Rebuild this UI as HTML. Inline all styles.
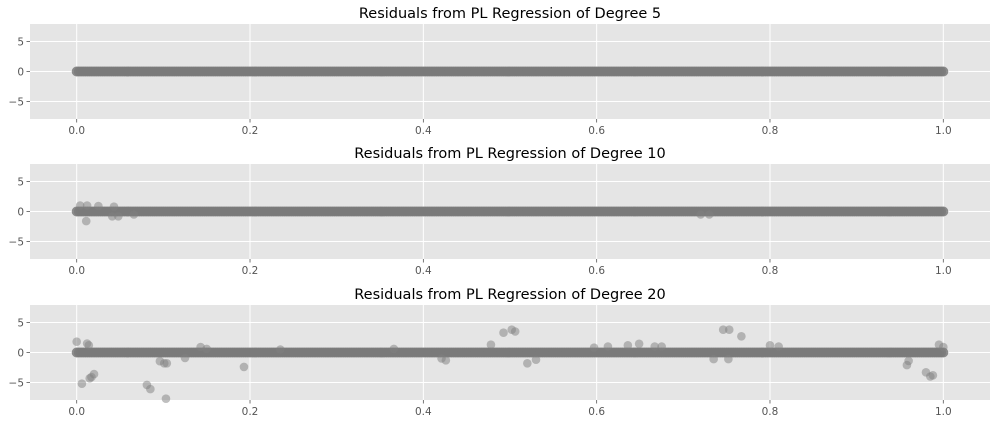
<!DOCTYPE html>
<html><head><meta charset="utf-8"><style>
html,body{margin:0;padding:0;background:#fff;}
svg{display:block;font-family:"DejaVu Sans","Liberation Sans",sans-serif;}
</style></head><body>
<svg id="fig" width="1000" height="424" xmlns="http://www.w3.org/2000/svg"></svg>
<script>
const titles = ["Residuals from PL Regression of Degree 5","Residuals from PL Regression of Degree 10","Residuals from PL Regression of Degree 20"];
const xTicks = [0.0,0.2,0.4,0.6,0.8,1.0];
const xTickLabels = ["0.0","0.2","0.4","0.6","0.8","1.0"];
const yTicks = [5,0,-5];
const yTickLabels = ["5","0","\u22125"];
// dense core band of residuals (approximately zero across x in [0,1])
const bandX = [];
for (let i = 0; i <= 400; i++) bandX.push(i/400);
const bandY = bandX.map(() => 0);
// outliers per panel
const out1X = [];
const out1Y = [];
const out2X = [0.004,0.012,0.011,0.025,0.043,0.041,0.048,0.066,0.72,0.73];
const out2Y = [1.0,1.0,-1.6,0.9,0.8,-0.8,-0.8,-0.5,-0.5,-0.5];
const out3X = [0.0,0.012,0.014,0.006,0.015,0.017,0.02,0.081,0.085,0.103,0.096,0.101,0.104,0.125,0.143,0.15,0.193,0.235,
  0.366,0.421,0.426,0.478,0.4925,0.502,0.506,0.52,0.53,0.597,0.613,0.636,0.649,0.667,0.675,
  0.735,0.746,0.752,0.753,0.767,0.8,0.81,0.958,0.96,0.98,0.985,0.988,0.995,1.0];
const out3Y = [1.8,1.5,1.2,-5.2,-4.3,-4.1,-3.6,-5.4,-6.1,-7.7,-1.45,-1.8,-1.8,-0.9,0.9,0.6,-2.4,0.5,
  0.6,-1.0,-1.3,1.3,3.3,3.8,3.5,-1.8,-1.2,0.8,1.0,1.2,1.45,1.0,1.0,
  -1.1,3.8,-1.1,3.8,2.7,1.2,1.0,-2.1,-1.4,-3.3,-4.0,-3.8,1.3,0.9];

const svg = document.getElementById('fig');
const NS = "http://www.w3.org/2000/svg";
function mk(tag, attrs){const e=document.createElementNS(NS,tag);for(const k in attrs)e.setAttribute(k,attrs[k]);return e;}
const L=30,R=990,H=95;
const tops=[24,164,305];
const xs = v => 76.7 + v*866.6;
const panels=[[out1X,out1Y],[out2X,out2Y],[out3X,out3Y]];
tops.forEach((T,p)=>{
  const zero = T + H/2;
  const ys = v => zero - v*6;
  const g = mk('g',{});
  
  
  svg.appendChild(g);
  const bg = mk('rect',{x:L,y:T,width:R-L,height:H,fill:'#e5e5e5'});
  
  
  g.appendChild(bg);
  xTicks.forEach((t,i)=>{
    const x=xs(t);
    const gl=mk('line',{x1:x,x2:x,y1:T,y2:T+H,stroke:'#fff','stroke-width':1});
    
    
    g.appendChild(gl);
    g.appendChild(mk('line',{x1:x,x2:x,y1:T+H,y2:T+H+3.5,stroke:'#555','stroke-width':0.8}));
    const tx=mk('text',{x:x,y:T+H+15,'font-size':10.5,fill:'#555','text-anchor':'middle'});
    
    
    tx.textContent=xTickLabels[i];g.appendChild(tx);
  });
  yTicks.forEach((t,i)=>{
    const y=ys(t);
    const gl=mk('line',{x1:L,x2:R,y1:y,y2:y,stroke:'#fff','stroke-width':1});
    
    
    g.appendChild(gl);
    g.appendChild(mk('line',{x1:L-3.5,x2:L,y1:y,y2:y,stroke:'#555','stroke-width':0.8}));
    const tx=mk('text',{x:L-6,y:y+4,'font-size':10.5,fill:'#555','text-anchor':'end'});
    
    
    tx.textContent=yTickLabels[i];g.appendChild(tx);
  });
  const tt=mk('text',{x:(L+R)/2,y:T-6,'font-size':14.5,fill:'#000','text-anchor':'middle'});
  
  
  tt.textContent=titles[p];g.appendChild(tt);
  const band=mk('g',{fill:'#7a7a7a','fill-opacity':0.85});
  
  
  g.appendChild(band);
  bandX.forEach((v,i)=>{
    const c=mk('circle',{cx:xs(v),cy:ys(bandY[i]),r:5});
    
    
    band.appendChild(c);
  });
  const pts=mk('g',{fill:'#808080','fill-opacity':0.5});
  
  
  g.appendChild(pts);
  const [ox,oy]=panels[p];
  ox.forEach((v,i)=>{
    const c=mk('circle',{cx:xs(v),cy:ys(oy[i]),r:4.3});
    
    
    pts.appendChild(c);
  });
});
</script>
</body></html>
